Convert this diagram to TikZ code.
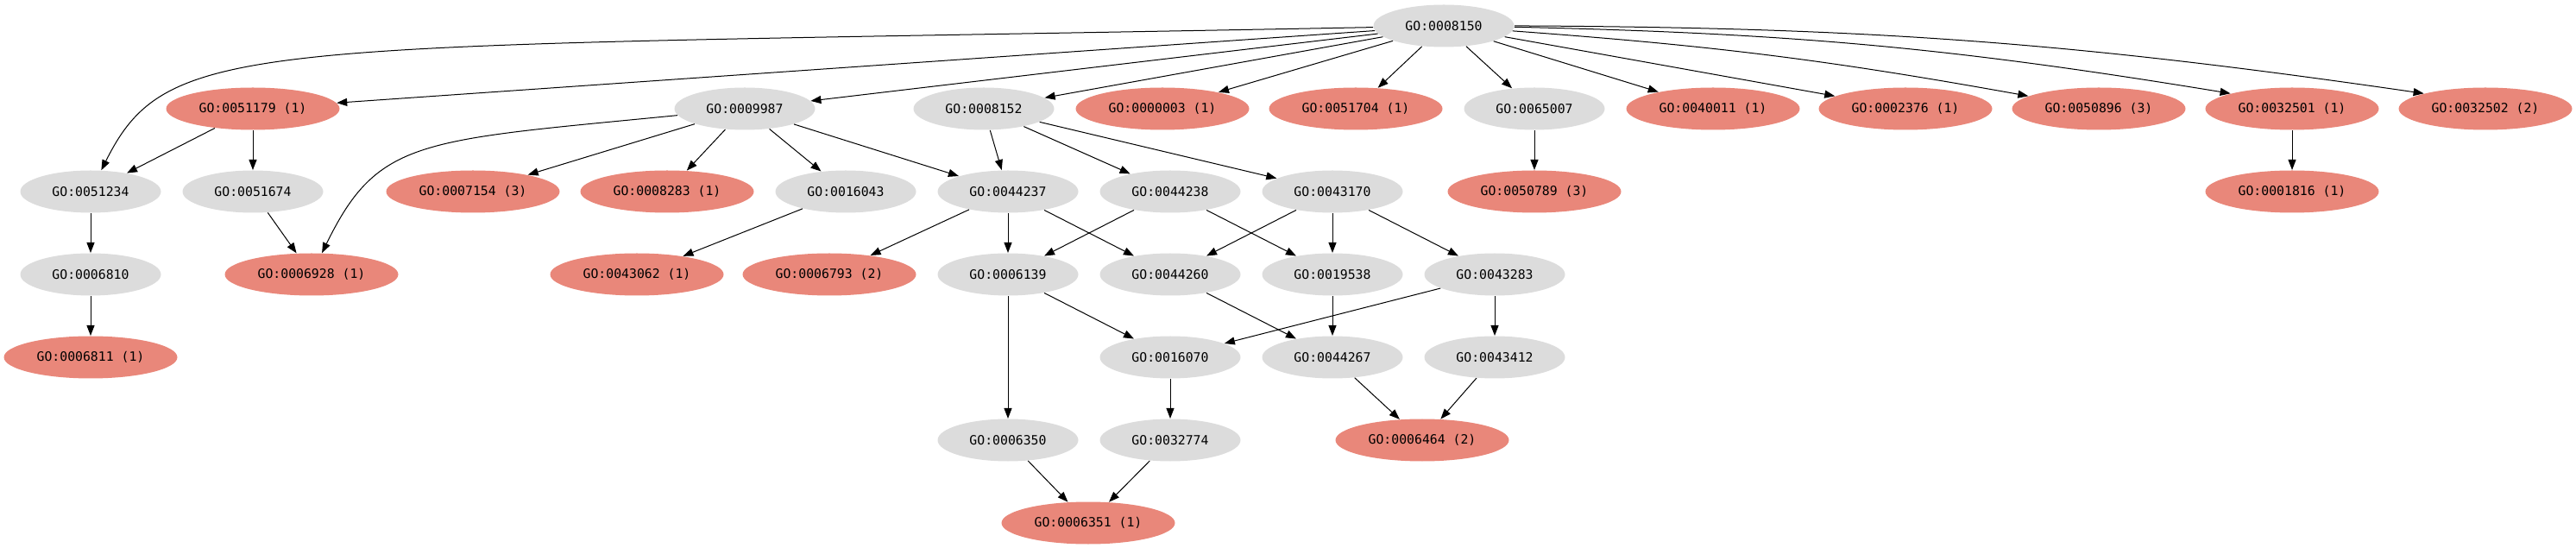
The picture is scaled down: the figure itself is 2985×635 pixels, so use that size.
\documentclass[tikz,border=0pt]{standalone}
\usepackage{fontspec}
\setmonofont{DejaVu Sans Mono}
\usetikzlibrary{arrows.meta,positioning,shapes.geometric}
\definecolor{termgray}{RGB}{220,220,220}
\definecolor{hitred}{RGB}{233,135,122}

\begin{document}
\begin{tikzpicture}[x=0.5pt,y=-0.5pt,>={Triangle[length=6pt,width=4.5pt]},line width=0.5pt,
                    node distance=48pt and 94pt,on grid,
                    term/.style={ellipse,fill=termgray,minimum width=81.5pt,minimum height=24.5pt,inner sep=0pt,
                                 font=\ttfamily\fontsize{7.4}{9}\selectfont},
                    hit/.style={term,fill=hitred,minimum width=100.5pt}]
                    \useasboundingbox (0,0) rectangle (2985,635);
                    \node[term] (0008150) at (1673,30) {GO:0008150};
                    \node[term] (0008152) [below left=48pt and 266.5pt of 0008150] {GO:0008152};
                    \node[hit] (0000003) [right=103.5pt of 0008152] {GO:0000003 (1)};
                    \node[hit] (0051704) [right=112pt of 0000003] {GO:0051704 (1)};
                    \node[term] (0065007) [right=103.5pt of 0051704] {GO:0065007};
                    \node[hit] (0040011) [right=103.5pt of 0065007] {GO:0040011 (1)};
                    \node[hit] (0002376) [right=111.5pt of 0040011] {GO:0002376 (1)};
                    \node[hit] (0050896) [right=112pt of 0002376] {GO:0050896 (3)};
                    \node[hit] (0032501) [right=112pt of 0050896] {GO:0032501 (1)};
                    \node[hit] (0032502) [right=112pt of 0032501] {GO:0032502 (2)};
                    \node[term] (0009987) [left=138.5pt of 0008152] {GO:0009987};
                    \node[hit] (0051179) [left=285pt of 0009987] {GO:0051179 (1)};
                    \node[term] (0044237) [below right=48pt and 14pt of 0008152] {GO:0044237};
                    \node[term] (0044238) [right=of 0044237] {GO:0044238};
                    \node[term] (0043170) [right=of 0044238] {GO:0043170};
                    \node[term] (0016043) [left=of 0044237] {GO:0016043};
                    \node[hit] (0008283) [left=103.5pt of 0016043] {GO:0008283 (1)};
                    \node[hit] (0007154) [left=112.5pt of 0008283] {GO:0007154 (3)};
                    \node[term] (0051674) [below=of 0051179] {GO:0051674};
                    \node[term] (0051234) [left=of 0051674] {GO:0051234};
                    \node[hit] (0050789) [below=of 0065007] {GO:0050789 (3)};
                    \node[hit] (0001816) [below=of 0032501] {GO:0001816 (1)};
                    \node[term] (0006810) [below=of 0051234] {GO:0006810};
                    \node[hit] (0006928) [right=128pt of 0006810] {GO:0006928 (1)};
                    \node[term] (0006139) [below=of 0044237] {GO:0006139};
                    \node[term] (0044260) [below=of 0044238] {GO:0044260};
                    \node[term] (0019538) [below=of 0043170] {GO:0019538};
                    \node[term] (0043283) [right=of 0019538] {GO:0043283};
                    \node[hit] (0006793) [left=103.5pt of 0006139] {GO:0006793 (2)};
                    \node[hit] (0043062) [left=111.5pt of 0006793] {GO:0043062 (1)};
                    \node[hit] (0006811) [below=of 0006810] {GO:0006811 (1)};
                    \node[term] (0016070) [below=of 0044260] {GO:0016070};
                    \node[term] (0044267) [below=of 0019538] {GO:0044267};
                    \node[term] (0043412) [below=of 0043283] {GO:0043412};
                    \node[term] (0006350) [below=96pt of 0006139] {GO:0006350};
                    \node[term] (0032774) [below=of 0016070] {GO:0032774};
                    \node[hit] (0006464) [below left=48pt and 42pt of 0043412] {GO:0006464 (2)};
                    \node[hit] (0006351) [below right=48pt and 46.5pt of 0006350] {GO:0006351 (1)};
                    \path[->]
                        (0008150) edge (0051179)
                            edge (0009987)
                            edge (0008152)
                            edge (0000003)
                            edge (0051704)
                            edge (0065007)
                            edge (0040011)
                            edge (0002376)
                            edge [bend left=3] (0050896)
                            edge [bend left=4] (0032501.north west)
                            edge [bend left=4] (0032502.north west)
                        (0051179) edge (0051234)
                            edge (0051674)
                        (0009987) edge (0007154)
                            edge (0008283)
                            edge (0016043)
                            edge (0044237)
                        (0008152) edge (0044237)
                            edge (0044238)
                            edge (0043170)
                        (0051234) edge (0006810)
                        (0051674) edge (0006928)
                        (0016043) edge (0043062)
                        (0044237) edge (0006793)
                            edge (0006139)
                            edge (0044260)
                        (0044238) edge (0006139)
                            edge (0019538)
                        (0043170) edge (0044260)
                            edge (0019538)
                            edge (0043283)
                        (0065007) edge (0050789)
                        (0032501) edge (0001816)
                        (0006810) edge (0006811)
                        (0006139) edge (0016070)
                            edge (0006350)
                        (0044260) edge (0044267)
                        (0019538) edge (0044267)
                        (0043283) edge (0016070)
                            edge (0043412)
                        (0016070) edge (0032774)
                        (0044267) edge (0006464)
                        (0043412) edge (0006464)
                        (0006350) edge (0006351)
                        (0032774) edge (0006351);
                    \draw[->] (0008150) .. controls (292,57) and (197,38) .. (0051234);
                    \draw[->] (0009987) .. controls (486,163) and (438,160) .. (0006928);
                \end{tikzpicture}
\end{document}
